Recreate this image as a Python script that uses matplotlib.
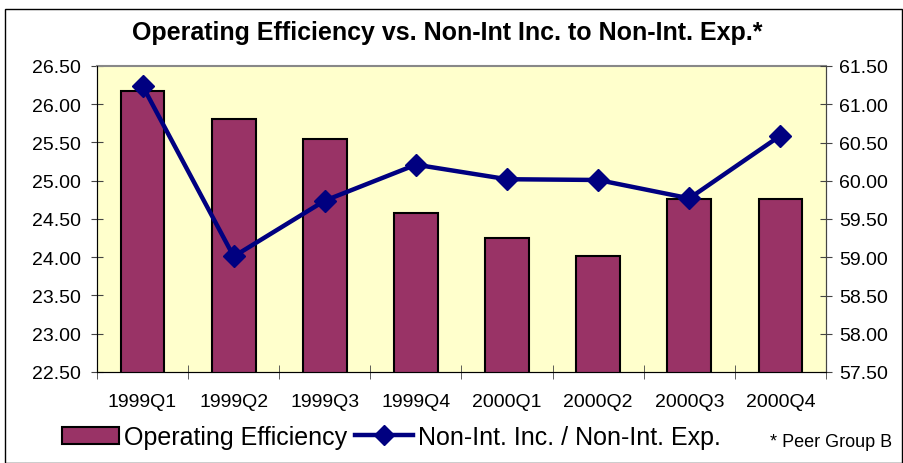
import matplotlib
matplotlib.use("Agg")
import matplotlib.pyplot as plt
from matplotlib.patches import Rectangle
from matplotlib.lines import Line2D
import numpy as np

plt.rcParams['font.family'] = ['Liberation Sans', 'DejaVu Sans']

categories = ["1999Q1", "1999Q2", "1999Q3", "1999Q4", "2000Q1", "2000Q2", "2000Q3", "2000Q4"]
operating_efficiency = [26.17, 25.81, 25.54, 24.58, 24.25, 24.02, 24.76, 24.76]
nonint_ratio = [61.24, 59.01, 59.74, 60.21, 60.02, 60.01, 59.77, 60.59]
left_ticks = [22.5, 23.0, 23.5, 24.0, 24.5, 25.0, 25.5, 26.0, 26.5]
right_ticks = [57.5, 58.0, 58.5, 59.0, 59.5, 60.0, 60.5, 61.0, 61.5]

fig = plt.figure(figsize=(9.04, 4.64), dpi=100)
fig.patch.set_facecolor('white')

# outer border
fig.add_artist(Rectangle((5/904, 0.0), 897/904, (464-10)/464, transform=fig.transFigure,
                         fill=False, edgecolor='black', linewidth=1.0))

ax = fig.add_axes([97/904, (464-373)/464, (826-97)/904, (373-67)/464])
ax.set_facecolor('#FFFFCC')
x = np.arange(len(categories))
ax.bar(x, operating_efficiency, width=0.48, color='#993366', edgecolor='black', linewidth=1.5,
       bottom=0, zorder=2)
ax.set_ylim(22.5, 26.5)
ax.set_xlim(-0.5, len(categories) - 0.5)
ax.set_yticks(left_ticks)
ax.set_yticklabels([f"{v:.2f}" for v in left_ticks], fontsize=14)
ax.set_xticks(x)
ax.set_xticklabels(categories, fontsize=14)
ax.tick_params(axis='x', length=0, pad=15)
ax.set_xticks(np.arange(len(categories) + 1) - 0.5, minor=True)
ax.tick_params(axis='x', which='minor', length=10, direction='inout', color='#444444')
ax.tick_params(axis='y', length=8.5, direction='inout', color='#444444', pad=7)
for s in ['left', 'bottom']:
    ax.spines[s].set_color('#444444')
ax.spines['top'].set_color('#888888')
ax.spines['top'].set_linewidth(1.5)
ax.spines['right'].set_color('#444444')

ax2 = ax.twinx()
ax2.plot(x, nonint_ratio, color='#000080', linewidth=3.2, marker='D', markersize=11,
         markerfacecolor='#000080', markeredgecolor='#000080', zorder=3)
ax2.set_ylim(57.5, 61.5)
ax2.set_yticks(right_ticks)
ax2.set_yticklabels([f"{v:.2f}" for v in right_ticks], fontsize=14)
ax2.tick_params(axis='y', length=8.5, direction='inout', color='#444444', pad=5)
ax2.spines['right'].set_color('#444444')
ax2.spines['top'].set_visible(False)

fig.text(447/904, 1 - 33/464, "Operating Efficiency vs. Non-Int Inc. to Non-Int. Exp.*",
         ha='center', va='center', fontsize=18, fontweight='bold')

handles = [Rectangle((0, 0), 1, 1, facecolor='#993366', edgecolor='black', linewidth=1.5),
           Line2D([0], [0], color='#000080', linewidth=3.2, marker='D', markersize=10)]
leg = fig.legend(handles, ["Operating Efficiency", "Non-Int. Inc. / Non-Int. Exp."],
                 loc='center left', bbox_to_anchor=(62/904, 1 - 438/464), ncol=2,
                 frameon=False, fontsize=18, handlelength=2.3, handletextpad=0.2,
                 columnspacing=0.3, borderaxespad=0, borderpad=0)

fig.text(770/904, 1 - 443/464, "* Peer Group B", ha='left', va='center', fontsize=13)

fig.savefig("out.png", dpi=100)
